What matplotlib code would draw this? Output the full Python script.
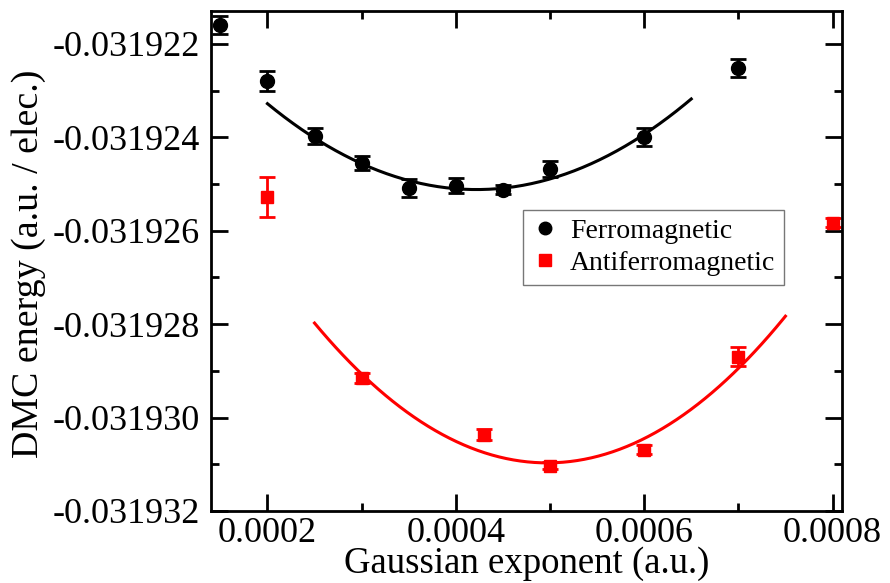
import numpy as np
import matplotlib
matplotlib.use('Agg')
import matplotlib.pyplot as plt
from matplotlib.lines import Line2D
from matplotlib.ticker import MultipleLocator, FormatStrFormatter

plt.rcParams['font.family'] = ['Liberation Serif', 'DejaVu Serif']

# Ferromagnetic DMC energies
x_fm = [0.00015, 0.0002, 0.00025, 0.0003, 0.00035, 0.0004, 0.00045, 0.0005, 0.0006, 0.0007]
e_fm = [-0.0319216, -0.0319228, -0.03192397, -0.03192455, -0.03192508,
        -0.03192504, -0.03192512, -0.03192468, -0.03192399, -0.03192252]
err_fm = [0.19e-6, 0.21e-6, 0.17e-6, 0.15e-6, 0.19e-6, 0.16e-6, 0.10e-6, 0.17e-6, 0.19e-6, 0.20e-6]

# Antiferromagnetic DMC energies
x_afm = [0.0002, 0.0003, 0.00043, 0.0005, 0.0006, 0.0007, 0.0008]
e_afm = [-0.03192528, -0.03192915, -0.03193037, -0.03193103, -0.03193069, -0.0319287, -0.03192583]
err_afm = [0.43e-6, 0.10e-6, 0.12e-6, 0.08e-6, 0.10e-6, 0.20e-6, 0.10e-6]

# quadratic fits: E = a (x - x0)^2 + c, drawn over the fitted range
fit_fm = dict(a=37.3, x0=0.000422, c=-0.03192512, lo=0.0002, hi=0.00065)
fit_afm = dict(a=49.05, x0=0.000497, c=-0.03193097, lo=0.00025, hi=0.00075)

fig = plt.figure(figsize=(8.9, 5.83), dpi=100)
ax = fig.add_axes([0.237, 0.1235, 0.709, 0.8575])

for f, col in [(fit_fm, 'black'), (fit_afm, 'red')]:
    xx = np.linspace(f['lo'], f['hi'], 200)
    ax.plot(xx, f['a'] * (xx - f['x0'])**2 + f['c'], color=col, lw=2.2)

ax.errorbar(x_fm, e_fm, yerr=err_fm, fmt='o', color='black', ms=10,
            capsize=6, capthick=2, elinewidth=2)
ax.errorbar(x_afm, e_afm, yerr=err_afm, fmt='s', color='red', ms=9,
            capsize=6, capthick=2, elinewidth=2)

ax.set_xlim(0.00014, 0.00081)
ax.set_ylim(-0.031932, -0.0319213)
ax.xaxis.set_major_locator(MultipleLocator(0.0002))
ax.xaxis.set_minor_locator(MultipleLocator(0.0001))
ax.yaxis.set_major_locator(MultipleLocator(2e-6))
ax.yaxis.set_minor_locator(MultipleLocator(1e-6))
ax.xaxis.set_major_formatter(FormatStrFormatter('%.4f'))
ax.yaxis.set_major_formatter(FormatStrFormatter('%.6f'))

ax.tick_params(which='both', direction='in', top=True, right=True, width=2, labelsize=26)
ax.tick_params(which='major', length=12)
ax.tick_params(which='minor', length=6)
ax.tick_params(axis='x', which='major', pad=4)
ax.tick_params(axis='y', which='major', pad=8)
for s in ax.spines.values():
    s.set_linewidth(2)

ax.set_xlabel('Gaussian exponent (a.u.)', fontsize=26.5, labelpad=-2)
ax.set_ylabel('DMC energy (a.u. / elec.)', fontsize=27.3)
ax.yaxis.set_label_coords(-0.262, 0.495)

handles = [Line2D([], [], ls='none', marker='o', color='black', ms=9),
           Line2D([], [], ls='none', marker='s', color='red', ms=8)]
leg = ax.legend(handles, ['Ferromagnetic', 'Antiferromagnetic'],
                loc='upper left', bbox_to_anchor=(0.4945, 0.602), fontsize=20,
                frameon=True, fancybox=False, edgecolor='#555555',
                handletextpad=0.4, borderpad=0.3, labelspacing=0.25,
                handlelength=1.0, borderaxespad=0)
leg.get_frame().set_linewidth(1)

fig.savefig('out.png', dpi=100)
